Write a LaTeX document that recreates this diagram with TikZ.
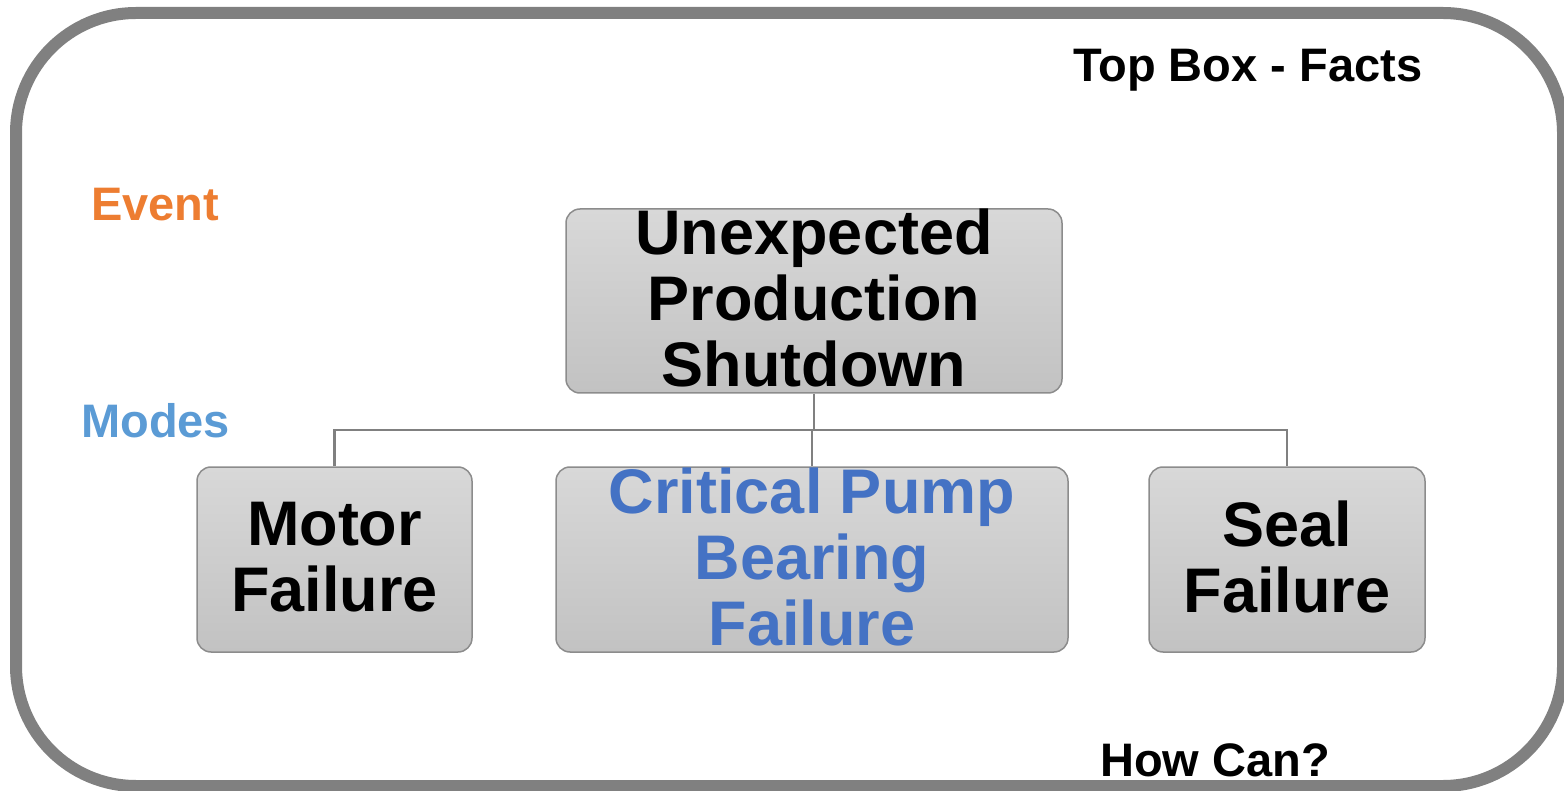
\documentclass[tikz,border=0pt]{standalone}
\usepackage{fontspec}
\setmainfont{Liberation Sans}
\definecolor{frame}{HTML}{808080}
\definecolor{boxline}{HTML}{8C8C8C}
\definecolor{boxtop}{HTML}{D8D8D8}
\definecolor{boxbot}{HTML}{C2C2C2}
\definecolor{eventc}{HTML}{ED7D31}
\definecolor{modesc}{HTML}{5B9BD5}
\definecolor{critc}{HTML}{4472C4}
\begin{document}
\begin{tikzpicture}[x=1pt,y=-1pt,
  treebox/.style={draw=boxline, line width=1.5pt, rounded corners=14pt,
    top color=boxtop, bottom color=boxbot, inner sep=0pt, align=center,
    text depth=6pt, font=\bfseries\fontsize{63}{66}\selectfont},
  conn/.style={draw=frame, line width=2.5pt},
  label/.style={anchor=base west, inner sep=0pt, font=\bfseries\fontsize{47}{52}\selectfont}]
\useasboundingbox (0,0) rectangle (1564,791);
% outer frame
\draw[frame, line width=12pt, rounded corners=120pt] (16,13) rectangle (1563,786);
% tree boxes
\node[treebox, minimum width=496pt, minimum height=184pt] (top) at (814,301)
  {Unexpected\\Production\\Shutdown};
\node[treebox, minimum width=275pt, minimum height=185pt] (motor) at (334.5,559.5)
  {Motor\\Failure};
\node[treebox, minimum width=512pt, minimum height=185pt, text=critc] (crit) at (812,559.5)
  {Critical Pump\\Bearing\\Failure};
\node[treebox, minimum width=276pt, minimum height=185pt] (seal) at (1287,559.5)
  {Seal\\Failure};
% connectors
\coordinate (j) at (814,430);
\draw[conn] (top.south) -- (j);
\draw[conn] (motor.north) -- (motor.north |- j) -- (seal.north |- j) -- (seal.north);
\draw[conn] (crit.north) -- (crit.north |- j);
% side labels
\node[label] (facts) at (1073,82) {Top Box - Facts};
\node[label, text=eventc] (event) at (91,221) {Event};
\node[label, text=modesc] (modes) at (81,438) {Modes};
\node[label] (how) at (1100,776) {How Can?};
\end{tikzpicture}
\end{document}
